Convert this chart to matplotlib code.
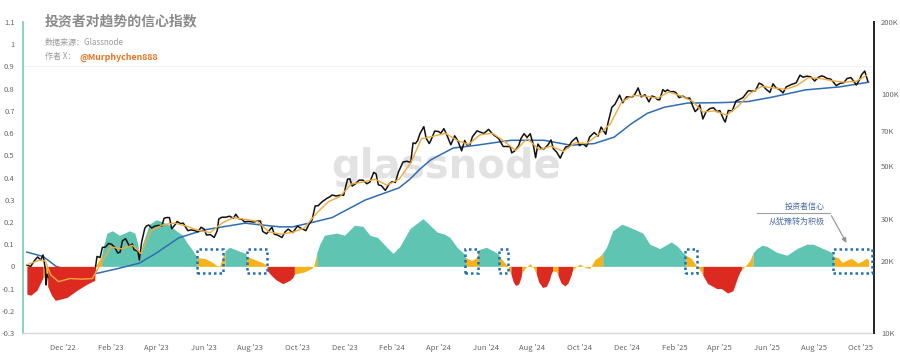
import matplotlib
matplotlib.use("Agg")
import matplotlib.pyplot as plt
import matplotlib.dates as mdates
import matplotlib.ticker as mticker
from matplotlib.patches import Rectangle
import numpy as np
import pandas as pd

plt.rcParams['font.family'] = ['Noto Sans CJK SC', 'DejaVu Sans']

# ---------------- data ----------------
price_dates = [
    "2022-10-15","2022-10-20","2022-10-25","2022-10-29","2022-11-02","2022-11-05","2022-11-08","2022-11-09",
    "2022-11-10","2022-11-14","2022-11-18","2022-11-21","2022-11-25","2022-11-30","2022-12-05","2022-12-10",
    "2022-12-14","2022-12-17","2022-12-23","2022-12-28","2022-12-31",
    "2023-01-05","2023-01-09","2023-01-12","2023-01-14","2023-01-18","2023-01-21","2023-01-25","2023-01-29",
    "2023-02-02","2023-02-06","2023-02-10","2023-02-13","2023-02-16","2023-02-20","2023-02-25","2023-03-01",
    "2023-03-03","2023-03-08","2023-03-10","2023-03-13","2023-03-17","2023-03-19","2023-03-22","2023-03-26",
    "2023-03-30","2023-04-04","2023-04-08","2023-04-11","2023-04-14","2023-04-18","2023-04-21","2023-04-25",
    "2023-04-28","2023-05-02","2023-05-06","2023-05-09","2023-05-12","2023-05-16","2023-05-21","2023-05-25",
    "2023-05-29","2023-06-02","2023-06-05","2023-06-10","2023-06-15","2023-06-19","2023-06-21","2023-06-25",
    "2023-06-30","2023-07-05","2023-07-10","2023-07-13","2023-07-17","2023-07-21","2023-07-24","2023-07-30",
    "2023-08-05","2023-08-10","2023-08-14","2023-08-17","2023-08-22","2023-08-29","2023-09-01","2023-09-05",
    "2023-09-11","2023-09-15","2023-09-19","2023-09-25","2023-10-01","2023-10-05","2023-10-12","2023-10-16",
    "2023-10-20","2023-10-24","2023-10-28","2023-11-02","2023-11-09","2023-11-12","2023-11-15","2023-11-20",
    "2023-11-25","2023-11-30","2023-12-05","2023-12-08","2023-12-11","2023-12-15","2023-12-20","2023-12-25",
    "2023-12-30",
    "2024-01-03","2024-01-08","2024-01-11","2024-01-14","2024-01-18","2024-01-23","2024-01-28","2024-02-01",
    "2024-02-05","2024-02-09","2024-02-15","2024-02-20","2024-02-25","2024-02-28","2024-03-02","2024-03-05",
    "2024-03-08","2024-03-13","2024-03-16","2024-03-20","2024-03-22","2024-03-27","2024-04-01","2024-04-04",
    "2024-04-08","2024-04-12","2024-04-17","2024-04-22","2024-04-26","2024-05-01","2024-05-05","2024-05-08",
    "2024-05-12","2024-05-15","2024-05-21","2024-05-25","2024-05-30","2024-06-05","2024-06-08","2024-06-12",
    "2024-06-18","2024-06-24","2024-06-28","2024-07-03","2024-07-05","2024-07-09","2024-07-14","2024-07-17",
    "2024-07-21","2024-07-25","2024-07-29","2024-08-02","2024-08-05","2024-08-08","2024-08-12","2024-08-16",
    "2024-08-21","2024-08-25","2024-08-28","2024-09-01","2024-09-06","2024-09-10","2024-09-13","2024-09-17",
    "2024-09-21","2024-09-27","2024-10-01","2024-10-05","2024-10-10","2024-10-14","2024-10-20","2024-10-25",
    "2024-10-29","2024-11-04","2024-11-07","2024-11-12","2024-11-16","2024-11-22","2024-11-26","2024-12-01",
    "2024-12-05","2024-12-09","2024-12-12","2024-12-16","2024-12-20","2024-12-25","2024-12-30",
    "2025-01-03","2025-01-07","2025-01-10","2025-01-13","2025-01-17","2025-01-20","2025-01-23","2025-01-27",
    "2025-01-31","2025-02-03","2025-02-07","2025-02-12","2025-02-17","2025-02-21","2025-02-25","2025-02-28",
    "2025-03-03","2025-03-06","2025-03-10","2025-03-14","2025-03-19","2025-03-24","2025-03-28","2025-04-01",
    "2025-04-06","2025-04-08","2025-04-12","2025-04-17","2025-04-22","2025-04-26","2025-05-01","2025-05-08",
    "2025-05-12","2025-05-17","2025-05-22","2025-05-26","2025-05-31","2025-06-05","2025-06-09","2025-06-13",
    "2025-06-17","2025-06-22","2025-06-26","2025-07-03","2025-07-09","2025-07-14","2025-07-18","2025-07-23",
    "2025-07-28","2025-08-02","2025-08-07","2025-08-11","2025-08-14","2025-08-18","2025-08-23","2025-08-30",
    "2025-09-04","2025-09-09","2025-09-13","2025-09-18","2025-09-22","2025-09-25","2025-09-29","2025-10-02",
    "2025-10-06","2025-10-10"]
price_values = [  # thousands USD
    19.2,19.0,20.1,20.8,20.2,21.2,18.5,15.9,
    17.6,16.6,16.7,15.8,16.5,17.2,17.1,17.1,
    17.8,16.7,16.8,16.5,16.5,
    16.8,17.2,18.8,20.9,20.7,22.8,22.9,23.7,
    23.5,22.8,21.6,21.8,24.3,24.8,23.1,23.6,
    22.3,22.0,20.2,24.1,27.4,28.0,28.3,27.5,
    28.0,28.2,28.0,30.2,30.4,30.4,27.3,28.3,
    29.3,28.7,28.8,27.7,26.8,27.0,26.8,26.5,
    27.7,27.2,25.7,25.8,25.1,26.8,30.0,30.5,
    30.5,30.8,30.2,31.4,30.1,29.9,29.2,29.3,
    29.1,29.4,29.4,26.6,26.0,27.7,25.9,25.7,
    25.1,26.5,27.2,26.3,28.0,27.5,26.8,28.5,
    29.7,34.0,34.1,35.4,36.7,37.1,37.8,37.4,
    37.7,37.7,44.0,44.2,41.2,42.0,43.6,43.6,
    42.1,
    42.8,47.0,46.3,41.7,41.3,39.5,42.0,43.0,
    42.6,47.1,51.9,52.3,51.7,62.4,62.0,63.8,
    68.3,73.0,65.3,62.0,63.8,69.9,69.7,68.5,
    71.6,67.2,61.3,66.8,63.8,57.8,63.9,61.2,
    61.5,66.2,70.1,69.3,68.4,71.1,69.3,67.3,
    65.1,60.3,60.3,60.2,56.7,57.8,60.8,65.1,
    68.2,65.8,68.2,61.4,54.1,61.7,59.3,58.9,
    61.2,64.2,59.0,57.3,53.9,57.6,60.0,60.3,
    63.3,65.8,60.8,62.1,60.2,66.0,69.0,66.6,
    72.7,67.8,75.9,88.0,90.6,98.9,91.9,97.3,
    97.0,97.4,100.0,106.0,97.2,99.3,92.7,
    98.1,96.9,94.7,94.5,104.3,102.3,104.0,102.1,
    102.4,101.4,96.5,97.9,95.8,96.1,88.7,84.4,
    86.2,90.0,78.6,84.0,86.9,87.5,84.4,85.2,
    78.2,76.3,85.3,84.9,93.4,94.7,96.5,103.2,
    102.8,103.1,111.0,109.4,104.6,101.5,110.3,105.9,
    104.6,101.0,107.0,109.6,111.3,119.8,117.5,118.7,
    117.9,113.3,117.5,119.0,118.3,116.2,115.3,108.4,
    110.7,111.5,116.0,117.1,112.7,109.0,114.3,120.5,
    124.7,113.0]

short_ma_dates = ["2022-10-15","2022-11-01","2022-11-08","2022-11-15","2022-11-25","2022-12-10","2022-12-25",
    "2023-01-08","2023-01-20","2023-02-01","2023-02-15","2023-03-01","2023-03-12","2023-03-25","2023-04-10",
    "2023-04-25","2023-05-10","2023-05-25","2023-06-10","2023-06-25","2023-07-10","2023-07-25","2023-08-10",
    "2023-08-25","2023-09-10","2023-09-25","2023-10-10","2023-10-25","2023-11-10","2023-11-25","2023-12-10",
    "2023-12-25","2024-01-10","2024-01-25","2024-02-10","2024-02-25","2024-03-10","2024-03-25","2024-04-10",
    "2024-04-25","2024-05-10","2024-05-25","2024-06-10","2024-06-25","2024-07-10","2024-07-25","2024-08-10",
    "2024-08-25","2024-09-10","2024-09-25","2024-10-10","2024-10-25","2024-11-10","2024-11-25","2024-12-10",
    "2024-12-25","2025-01-10","2025-01-25","2025-02-10","2025-02-25","2025-03-10","2025-03-25","2025-04-10",
    "2025-04-25","2025-05-10","2025-05-25","2025-06-10","2025-06-25","2025-07-10","2025-07-25","2025-08-10",
    "2025-08-25","2025-09-10","2025-09-25","2025-10-08"]
short_ma_values = [19.3,20.2,20.0,17.5,16.4,16.9,16.8,16.9,19.8,22.9,22.5,23.3,21.5,26.8,28.4,
    28.8,28.0,26.9,26.3,28.8,30.4,29.9,29.3,26.5,25.9,26.4,27.5,31.5,35.4,37.2,42.0,
    42.8,44.0,41.5,44.0,51.5,65.0,66.5,68.5,64.0,61.5,67.5,68.5,63.5,58.0,65.0,58.5,
    60.5,57.5,62.5,62.0,67.5,75.0,93.0,98.5,98.0,96.0,102.0,98.0,93.0,84.0,85.0,81.5,
    89.0,100.5,107.5,106.0,104.5,108.5,117.0,116.0,113.5,112.0,113.0,119.5]

long_ma_dates = ["2022-10-15","2022-11-05","2022-11-22","2022-12-10","2023-01-01","2023-01-15","2023-02-10",
    "2023-03-10","2023-04-01","2023-04-30","2023-06-02","2023-06-26","2023-07-25","2023-09-08","2023-09-25",
    "2023-10-20","2023-11-15","2023-12-28","2024-02-10","2024-02-24","2024-03-08","2024-03-22","2024-04-20",
    "2024-05-20","2024-07-04","2024-08-16","2024-09-20","2024-10-20","2024-11-15","2024-12-07","2024-12-28",
    "2025-01-19","2025-02-18","2025-04-04","2025-05-08","2025-06-08","2025-07-21","2025-09-03","2025-10-11"]
long_ma_values = [21.8,20.9,19.0,18.2,17.6,17.8,18.6,19.6,21.6,25.0,27.0,27.8,28.8,27.8,27.8,
    29.0,30.4,36.0,40.5,44.0,48.5,53.0,59.4,61.0,64.0,64.0,61.0,62.0,66.0,75.0,83.0,
    88.0,91.6,92.0,93.0,97.0,104.0,107.0,112.0]

ind_dates = ["2022-10-15","2022-10-20","2022-10-28","2022-11-03","2022-11-05","2022-11-10","2022-11-11",
    "2022-11-16","2022-11-21","2022-12-06","2022-12-19","2023-01-01","2023-01-11","2023-01-12","2023-01-17",
    "2023-01-20","2023-01-23","2023-01-27","2023-02-03","2023-02-12","2023-02-19","2023-02-25","2023-03-04",
    "2023-03-08","2023-03-10","2023-03-14","2023-03-23","2023-04-01","2023-04-09","2023-04-18","2023-04-27",
    "2023-05-05","2023-05-10","2023-05-18","2023-05-23","2023-05-24","2023-06-03","2023-06-12","2023-06-18",
    "2023-06-22","2023-06-25","2023-06-29","2023-07-05","2023-07-18","2023-07-26","2023-07-27","2023-08-07",
    "2023-08-16","2023-08-21","2023-08-23","2023-08-28","2023-09-03","2023-09-12","2023-09-21","2023-09-25",
    "2023-09-27","2023-10-10","2023-10-20","2023-10-23","2023-10-26","2023-10-30","2023-11-05","2023-11-21",
    "2023-12-01","2023-12-14","2023-12-25","2024-01-03","2024-01-13","2024-01-25","2024-02-02","2024-02-11",
    "2024-02-24","2024-03-12","2024-03-21","2024-03-30","2024-04-09","2024-04-16","2024-04-25","2024-05-04",
    "2024-05-06","2024-05-14","2024-05-21","2024-05-23","2024-06-02","2024-06-11","2024-06-18","2024-06-19",
    "2024-06-25","2024-06-30","2024-07-02","2024-07-04","2024-07-07","2024-07-10","2024-07-14","2024-07-17",
    "2024-07-18","2024-07-23","2024-07-29","2024-08-03","2024-08-06","2024-08-09","2024-08-14","2024-08-19",
    "2024-08-23","2024-08-25","2024-08-27","2024-09-01","2024-09-03","2024-09-07","2024-09-12","2024-09-16",
    "2024-09-20","2024-09-22","2024-10-01","2024-10-09","2024-10-14","2024-10-21","2024-10-27","2024-10-31",
    "2024-11-05","2024-11-13","2024-11-25","2024-12-09","2024-12-22","2024-12-31","2025-01-13","2025-01-28",
    "2025-02-05","2025-02-12","2025-02-16","2025-02-23","2025-03-02","2025-03-06","2025-03-10","2025-03-16",
    "2025-03-28","2025-04-03","2025-04-11","2025-04-18","2025-04-24","2025-04-27","2025-04-29","2025-05-05",
    "2025-05-10","2025-05-14","2025-05-19","2025-05-26","2025-06-01","2025-06-14","2025-06-27","2025-07-10",
    "2025-07-23","2025-07-31","2025-08-13","2025-08-23","2025-08-27","2025-09-01","2025-09-07","2025-09-14",
    "2025-09-19","2025-09-27","2025-10-03","2025-10-08","2025-10-11"]
ind_values = [-0.125,-0.13,-0.108,-0.065,-0.05,-0.05,-0.09,
    -0.13,-0.153,-0.14,-0.108,-0.08,-0.063,0.0,0.03,
    0.05,0.10,0.15,0.16,0.14,0.15,0.16,0.15,
    0.10,0.03,0.10,0.19,0.21,0.20,0.185,0.16,
    0.14,0.11,0.072,0.045,0.04,0.035,0.02,0.005,
    0.002,0.03,0.07,0.086,0.068,0.058,0.045,0.03,
    0.018,0.008,-0.02,-0.04,-0.06,-0.078,-0.063,-0.05,
    -0.035,-0.025,-0.008,0.01,0.06,0.10,0.14,0.15,
    0.14,0.185,0.18,0.14,0.13,0.086,0.058,0.09,
    0.17,0.215,0.185,0.155,0.145,0.13,0.086,0.058,
    0.04,0.027,0.04,0.075,0.086,0.07,0.055,0.045,
    0.02,0.0,-0.02,-0.035,-0.07,-0.086,-0.08,-0.05,
    -0.03,-0.005,0.012,-0.01,-0.035,-0.07,-0.095,-0.09,
    -0.06,-0.035,-0.02,-0.025,-0.04,-0.075,-0.088,-0.075,
    -0.04,-0.015,0.01,-0.005,-0.01,0.03,0.045,0.06,
    0.086,0.16,0.19,0.17,0.15,0.10,0.08,0.11,
    0.09,0.063,0.05,0.036,0.0,-0.015,-0.04,-0.077,
    -0.10,-0.10,-0.12,-0.11,-0.05,-0.025,-0.015,0.005,
    0.027,0.06,0.08,0.095,0.09,0.063,0.05,0.08,
    0.10,0.10,0.08,0.065,0.045,0.04,0.018,0.03,
    0.036,0.014,0.025,0.036,0.03]
ind_state = ["r","r","r","r","o","o","r",
    "r","r","r","r","r","r","o","o",
    "t","t","t","t","t","t","t","t",
    "t","t","t","t","t","t","t","t",
    "t","t","t","t","o","o","o","o",
    "o","o","t","t","t","t","o","o",
    "o","o","r","r","r","r","r","r",
    "o","o","o","o","t","t","t","t",
    "t","t","t","t","t","t","t","t",
    "t","t","t","t","t","t","t","t",
    "o","o","o","t","t","t","t","o",
    "o","o","o","r","r","r","r","r",
    "o","o","o","o","r","r","r","r",
    "r","r","o","o","r","r","r","r",
    "r","o","o","o","o","o","o","t",
    "t","t","t","t","t","t","t","t",
    "t","t","o","o","o","o","r","r",
    "r","r","r","r","r","r","o","o",
    "o","t","t","t","t","t","t","t",
    "t","t","t","t","o","o","o","o",
    "o","o","o","o","o"]

boxes = [("2023-05-24", "2023-06-26"), ("2023-07-27", "2023-08-22"), ("2024-05-05", "2024-05-22"),
         ("2024-06-18", "2024-06-30"), ("2025-02-15", "2025-03-03"), ("2025-08-26", "2025-10-15")]

left_ticks = [-0.3, -0.2, -0.1, 0, 0.1, 0.2, 0.3, 0.4, 0.5, 0.6, 0.7, 0.8, 0.9, 1.0, 1.1]
right_ticks = [10000, 20000, 30000, 50000, 70000, 100000, 200000]
right_labels = ["10K", "20K", "30K", "50K", "70K", "100K", "200K"]

assert len(price_dates) == len(price_values)
assert len(short_ma_dates) == len(short_ma_values)
assert len(long_ma_dates) == len(long_ma_values)
assert len(ind_dates) == len(ind_values) == len(ind_state)

# ---------------- plot ----------------
pdates = pd.to_datetime(price_dates)
pvals = np.array(price_values) * 1000
sdates = pd.to_datetime(short_ma_dates)
svals = np.array(short_ma_values) * 1000
ldates = pd.to_datetime(long_ma_dates)
lvals = np.array(long_ma_values) * 1000
idates = pd.to_datetime(ind_dates)
ivals = np.array(ind_values)

TEAL, ORANGE, RED = "#60c4b3", "#f5b21a", "#dd2a20"
colors = {"t": TEAL, "o": ORANGE, "r": RED}

fig = plt.figure(figsize=(9, 3.63), dpi=100)
rect = [23 / 900, 1 - 333 / 363, (874 - 23) / 900, (333 - 22) / 363]
ax = fig.add_axes(rect)      # left axis: indicator (teal / orange fills)
axp = ax.twinx()             # right axis: log price; also hosts red fill via ax.transData

xmin, xmax = pd.Timestamp("2022-10-10"), pd.Timestamp("2025-10-18")
ax.set_xlim(xmin, xmax)
ax.set_ylim(-0.3, 1.1)
axp.set_yscale("log")
axp.set_ylim(10000, 200000)
ax.set_autoscale_on(False)
axp.set_autoscale_on(False)

# indicator fills by state runs (red drawn in the upper axes so that it covers the price lines)
n = len(ivals)
i = 0
while i < n:
    j = i
    while j + 1 < n and ind_state[j + 1] == ind_state[i]:
        j += 1
    end = min(j + 1, n - 1)
    if ind_state[i] == "r":
        axp.fill_between(idates[i:end + 1], ivals[i:end + 1], 0, color=RED, lw=0, zorder=4,
                         transform=ax.transData)
    else:
        ax.fill_between(idates[i:end + 1], ivals[i:end + 1], 0, color=colors[ind_state[i]], lw=0, zorder=2)
    i = j + 1

ax.axhline(0.9, color="#f2f2f2", lw=0.8, zorder=0)
ax.text(0.497, 0.535, "glassnode", transform=ax.transAxes, ha="center", va="center",
        fontsize=29, color="#e2e2e2", fontweight="bold", family=["DejaVu Sans"], zorder=1)

axp.plot(ldates, lvals, color="#2f6db3", lw=1.1, zorder=2)
axp.plot(pdates, pvals, color="#111111", lw=1.1, zorder=3)
axp.plot(sdates, svals, color="#f2a93b", lw=1.0, zorder=5)

# dotted boxes
for s, e in boxes:
    s0 = mdates.date2num(pd.Timestamp(s))
    e0 = mdates.date2num(pd.Timestamp(e))
    axp.add_patch(Rectangle((s0, -0.032), e0 - s0, 0.109, fill=False, ec="#1f6db5",
                            lw=1.8, ls=(0, (1, 1.2)), zorder=6, transform=ax.transData))

# annotation
axp.plot([pd.Timestamp("2025-05-19"), pd.Timestamp("2025-08-22")], [0.239, 0.239], color="#a0a0a0", lw=0.8,
         transform=ax.transData, zorder=6)
axp.annotate("", xy=(mdates.date2num(pd.Timestamp("2025-09-14")), 0.095),
             xytext=(mdates.date2num(pd.Timestamp("2025-08-22")), 0.239),
             xycoords=ax.transData, textcoords=ax.transData,
             arrowprops=dict(arrowstyle="-|>", color="#909090", lw=0.8, mutation_scale=7), zorder=6)
axp.text(mdates.date2num(pd.Timestamp("2025-08-15")), 0.268, "投资者信心", ha="right", va="center",
         fontsize=5.8, color="#4a68a6", transform=ax.transData, zorder=6)
axp.text(mdates.date2num(pd.Timestamp("2025-08-15")), 0.203, "从犹豫转为积极", ha="right", va="center",
         fontsize=5.8, color="#4a68a6", transform=ax.transData, zorder=6)

# axes styling
for sp in ("top", "right"):
    ax.spines[sp].set_visible(False)
ax.spines["left"].set_color("#74cbb8")
ax.spines["left"].set_linewidth(1.2)
ax.spines["bottom"].set_color("#dadada")
ax.spines["bottom"].set_linewidth(1.0)
ax.set_yticks(left_ticks)
ax.yaxis.set_major_formatter(mticker.FuncFormatter(lambda v, p: f"{round(v, 1):g}"))
ax.tick_params(axis="y", length=0, pad=6, labelsize=5.5, labelcolor="#666666")
ax.xaxis.set_major_locator(mdates.MonthLocator(bymonth=[2, 4, 6, 8, 10, 12]))
ax.xaxis.set_major_formatter(mdates.DateFormatter("%b '%y"))
ax.tick_params(axis="x", length=0, pad=8, labelsize=5.5, labelcolor="#666666")

for sp in ("top", "left", "bottom"):
    axp.spines[sp].set_visible(False)
axp.spines["right"].set_color("#222222")
axp.spines["right"].set_linewidth(1.4)
axp.yaxis.set_major_locator(mticker.FixedLocator(right_ticks))
axp.yaxis.set_major_formatter(mticker.FixedFormatter(right_labels))
axp.yaxis.set_minor_locator(mticker.NullLocator())
axp.tick_params(axis="y", length=0, pad=5, labelsize=5.5, labelcolor="#666666")

ax.set_xlim(xmin, xmax)
ax.set_ylim(-0.3, 1.1)
axp.set_ylim(10000, 200000)

# header texts
fig.text(45 / 900, 1 - 21.5 / 363, "投资者对趋势的信心指数", fontsize=10, fontweight="bold",
         color="#8a8a8a", va="center", ha="left")
fig.text(45 / 900, 1 - 42 / 363, "数据来源：Glassnode", fontsize=5.8, color="#9a9a9a", va="center", ha="left")
fig.text(45 / 900, 1 - 57 / 363, "作者 X：", fontsize=5.8, color="#9a9a9a", va="center", ha="left")
fig.text(80 / 900, 1 - 57 / 363, "@Murphychen888", fontsize=6.3, color="#e8721c", fontweight="bold",
         va="center", ha="left")

fig.savefig("out.png", dpi=100, facecolor="white")
